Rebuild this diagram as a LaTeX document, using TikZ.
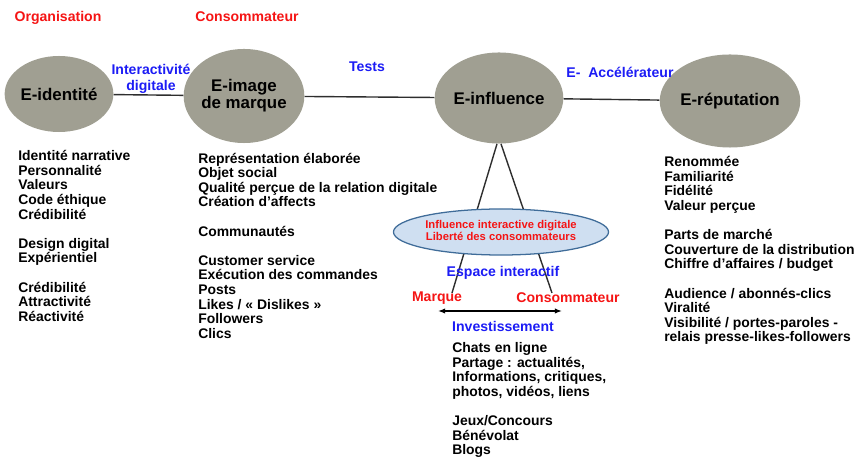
\documentclass[tikz,border=0pt]{standalone}
\usepackage{fontspec}
\setmainfont{Liberation Sans}
\usetikzlibrary{positioning,shapes.geometric,arrows.meta}

\definecolor{ovalgray}{HTML}{A09F92}
\definecolor{labelblue}{HTML}{1C1CF5}
\definecolor{labelred}{HTML}{F51414}
\definecolor{spacefill}{HTML}{CFDFF1}
\definecolor{spaceline}{HTML}{3F6C99}
\definecolor{linkgray}{HTML}{2E2E2E}

\begin{document}
\begin{tikzpicture}[
  x=0.025cm, y=-0.025cm,
  stagebox/.style={
    ellipse,
    fill=ovalgray,
    inner sep=0pt,
    align=center,
    font=\bfseries\fontsize{12}{13}\selectfont
  },
  link/.style={draw=linkgray, line width=1pt},
  bluelabel/.style={text=labelblue, align=center, font=\bfseries\fontsize{10}{11}\selectfont},
  redlabel/.style={text=labelred, font=\bfseries\fontsize{10}{11}\selectfont},
  itemlist/.style={
    anchor=base west,
    align=left,
    inner sep=0pt,
    font=\bfseries\fontsize{9.9}{10.4}\selectfont
  },
  spacebox/.style={
    ellipse,
    draw=spaceline,
    fill=spacefill,
    line width=0.9pt,
    minimum width=5.375cm,
    minimum height=1.15cm,
    inner sep=0pt,
    text=labelred,
    font=\bfseries\fontsize{8}{8.5}\selectfont
  }
]
\useasboundingbox (0,0) rectangle (855,457);

% stages
\node[stagebox, minimum width=2.45cm, minimum height=1.9cm] (ident) at (59,94) {E-identité};
\node[stagebox, minimum width=2.7cm, minimum height=2.35cm] (image) at (244,96) {\raisebox{-2pt}{E-image}\\de marque};
\node[stagebox, minimum width=2.7cm, minimum height=2.275cm] (influ) at (499,98) {E-influence};
\node[stagebox, minimum width=2.725cm, minimum height=2.325cm] (repu) at (730,101) {E-réputation};

\draw[link] (ident) -- (image);
\draw[link] (image) -- (influ);
\draw[link] (influ) -- (repu);

% labels above the stages
\node[redlabel] (orga) at (58,18) {Organisation};
\node[redlabel] (conso) at (247,17) {Consommateur};
\node[bluelabel] (interac) at (151,79) {Interactivité\\digitale};
\node[bluelabel] (tests) at (367,67) {Tests};
\node[bluelabel] (accel) at (620,72) {E-\ \ Accélérateur};

% interactive space
\coordinate (legmq) at (452,293);
\coordinate (legcs) at (552,293);
\draw[link] ([xshift=-1.4pt]influ.south) -- (legmq);
\draw[link] ([xshift=1.4pt]influ.south) -- (legcs);
\node[spacebox] (space) at (501,232) {\raisebox{-2.5pt}{\def\arraystretch{0.9}\begin{tabular}{@{}c@{}}Influence interactive digitale\\Liberté des consommateurs\end{tabular}}};

\node[bluelabel] (espace) at (503,273) {Espace interactif};
\node[redlabel] (marque) at (437,298) {Marque};
\node[redlabel] (consbas) at (568,298) {Consommateur};
\coordinate (arl) at (438,311);
\coordinate (arr) at (562,311);
\draw[line width=1pt, {Latex[length=5pt]}-{Latex[length=5pt]}] (arl) -- (arr);
\node[bluelabel] (invest) at (503,326) {Investissement};

% lists (placed by the baseline of their last line)
\node[itemlist] (identlist) at (18,321.5) {Identité narrative\\Personnalité\\Valeurs\\Code éthique\\Crédibilité\\[10.4pt]
  Design digital\\Expérientiel\\[10.4pt]
  Crédibilité\\Attractivité\\Réactivité};
\node[itemlist] (imagelist) at (198,338.5) {Représentation élaborée\\Objet social\\Qualité perçue de la relation digitale\\Création d’affects\\[10.4pt]
  Communautés\\[10.4pt]
  Customer service\\Exécution des commandes\\Posts\\Likes / « Dislikes »\\Followers\\Clics};
\node[itemlist] (influlist) at (452,455) {Chats en ligne\\Partage : actualités,\\Informations, critiques,\\photos, vidéos, liens\\[10.4pt]
  Jeux/Concours\\Bénévolat\\Blogs};
\node[itemlist] (repulist) at (664,342) {Renommée\\Familiarité\\Fidélité\\Valeur perçue\\[10.4pt]
  Parts de marché\\Couverture de la distribution\\Chiffre d’affaires / budget\\[10.4pt]
  Audience / abonnés-clics\\Viralité\\Visibilité / portes-paroles -\\relais presse-likes-followers};

\end{tikzpicture}
\end{document}
